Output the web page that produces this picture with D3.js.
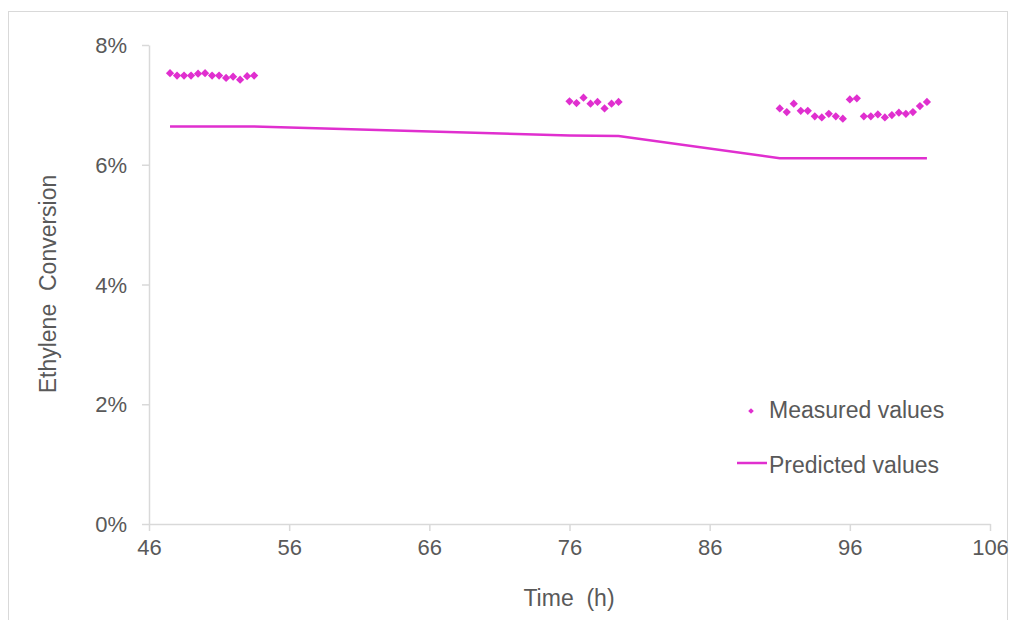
<!DOCTYPE html>
<html>
<head>
<meta charset="utf-8">
<script src="https://cdn.jsdelivr.net/npm/d3@7"></script>
<style>
  body { margin: 0; background: #fff; }
  text { font-family: "Liberation Sans", Arial, sans-serif; fill: #595959; }
</style>
</head>
<body>
<svg id="chart"></svg>
<script>
// measured ethylene conversion (%) vs time (h)
const measuredTime = [
  47.5, 48, 48.5, 49, 49.5, 50, 50.5, 51, 51.5, 52, 52.5, 53, 53.5,
  76, 76.5, 77, 77.5, 78, 78.5, 79, 79.5,
  91, 91.5, 92, 92.5, 93, 93.5, 94, 94.5, 95, 95.5, 96, 96.5,
  97, 97.5, 98, 98.5, 99, 99.5, 100, 100.5, 101, 101.5
];
const measuredValue = [
  7.53, 7.49, 7.49, 7.49, 7.52, 7.53, 7.49, 7.49, 7.45, 7.47, 7.42, 7.48, 7.49,
  7.06, 7.03, 7.12, 7.02, 7.05, 6.94, 7.02, 7.05,
  6.94, 6.88, 7.02, 6.90, 6.90, 6.81, 6.79, 6.85, 6.81, 6.77, 7.09, 7.11,
  6.81, 6.81, 6.84, 6.79, 6.83, 6.87, 6.85, 6.88, 6.98, 7.05
];
// predicted values (model line)
const predictedTime = [47.5, 53.5, 76, 79.5, 91, 101.5];
const predictedValue = [6.64, 6.64, 6.49, 6.48, 6.11, 6.11];

const xTicks = [46, 56, 66, 76, 86, 96, 106];
const yTicks = [0, 2, 4, 6, 8];

const width = 1010, height = 620;
const margin = {top: 45, right: 20, bottom: 96, left: 149};
const color = '#e02fcf';
const axisColor = '#d9d9d9';

const svg = d3.select('#chart')
    .attr('width', width)
    .attr('height', height);

// outer frame
svg.append('rect')
    .attr('x', 8.5).attr('y', 11.5)
    .attr('width', 999).attr('height', 620)
    .attr('fill', 'none')
    .attr('stroke', axisColor);

const xScale = d3.scaleLinear().domain([46, 106]).range([margin.left, 990]);
const yScale = d3.scaleLinear().domain([0, 8]).range([524, margin.top]);

// axes
const xAxis = d3.axisBottom(xScale)
    .tickValues(xTicks)
    .tickSizeInner(7)
    .tickSizeOuter(0)
    .tickPadding(8)
    .tickFormat(d3.format('d'));

const yAxis = d3.axisLeft(yScale)
    .tickValues(yTicks)
    .tickSizeInner(7)
    .tickSizeOuter(0)
    .tickPadding(15)
    .tickFormat(d => d + '%');

const xAxisG = svg.append('g')
    .attr('transform', `translate(0,${yScale(0)})`)
    .call(xAxis);
const yAxisG = svg.append('g')
    .attr('transform', `translate(${margin.left},0)`)
    .call(yAxis);

[xAxisG, yAxisG].forEach(g => {
  g.select('.domain').attr('stroke', axisColor).attr('stroke-width', 1.5);
  g.selectAll('.tick line').attr('stroke', axisColor).attr('stroke-width', 1.5);
  g.selectAll('.tick text')
      .attr('fill', '#595959')
      .style('font-size', '22px')
      .style('font-family', '"Liberation Sans", Arial, sans-serif');
});
yAxisG.selectAll('.tick text').attr('dy', '0.35em');

// axis titles
svg.append('text')
    .attr('transform', `translate(56,284) rotate(-90)`)
    .attr('text-anchor', 'middle')
    .style('font-size', '23px')
    .style('white-space', 'pre')
    .text('Ethylene  Conversion');

svg.append('text')
    .attr('x', 569).attr('y', 606)
    .attr('text-anchor', 'middle')
    .style('font-size', '23px')
    .style('white-space', 'pre')
    .text('Time  (h)');

// predicted line
const predicted = predictedTime.map((t, i) => ({t, v: predictedValue[i]}));
const line = d3.line()
    .x(d => xScale(d.t))
    .y(d => yScale(d.v));

svg.append('path')
    .datum(predicted)
    .attr('d', line)
    .attr('fill', 'none')
    .attr('stroke', color)
    .attr('stroke-width', 2.5);

// measured points (diamonds)
const measured = measuredTime.map((t, i) => ({t, v: measuredValue[i]}));
const diamond = d3.symbol().type(d3.symbolSquare).size(34);

svg.append('g')
    .selectAll('path')
    .data(measured)
    .join('path')
    .attr('d', diamond)
    .attr('transform', d => `translate(${xScale(d.t)},${yScale(d.v)}) rotate(45)`)
    .attr('fill', color);

// legend
const legend = svg.append('g');
legend.append('path')
    .attr('d', d3.symbol().type(d3.symbolSquare).size(16))
    .attr('transform', 'translate(751,411) rotate(45)')
    .attr('fill', color);
legend.append('text')
    .attr('x', 769).attr('y', 410)
    .attr('dy', '0.35em')
    .style('font-size', '23px')
    .text('Measured values');
legend.append('line')
    .attr('x1', 737).attr('x2', 767)
    .attr('y1', 463).attr('y2', 463)
    .attr('stroke', color)
    .attr('stroke-width', 2.5);
legend.append('text')
    .attr('x', 769).attr('y', 465)
    .attr('dy', '0.35em')
    .style('font-size', '23px')
    .text('Predicted values');
</script>
</body>
</html>
